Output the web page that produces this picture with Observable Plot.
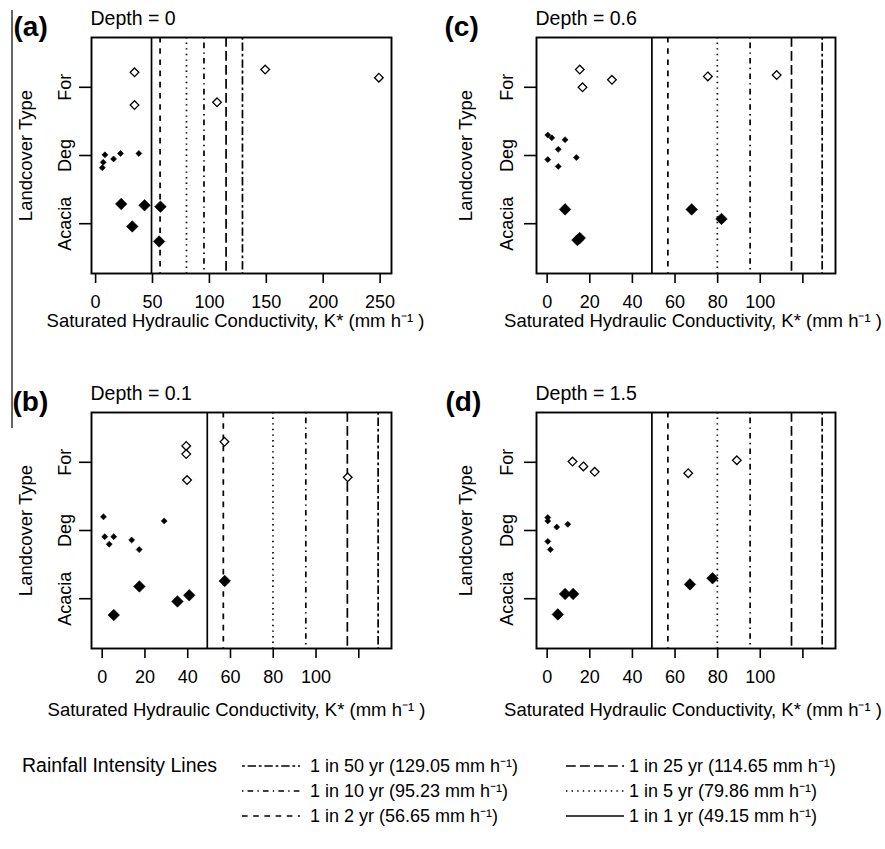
<!DOCTYPE html>
<html><head><meta charset="utf-8">
<script src="https://cdn.jsdelivr.net/npm/d3@7"></script>
<script src="https://cdn.jsdelivr.net/npm/@observablehq/plot@0.6"></script>
<style>
body{margin:0;background:#fff;font-family:"Liberation Sans",Arial,sans-serif;color:#000;}
#root{position:relative;width:885px;height:849px;overflow:hidden;background:#fff;}
.panel{position:absolute;}
#edge{position:absolute;left:11px;top:10px;width:1.5px;height:418px;background:#666;}
#legend{position:absolute;left:0;top:740px;}
</style></head><body><div id="root"><div id="edge"></div></div>
<script>
// ---- data ----
const categories = ["Acacia", "Deg", "For"];

// (a) Depth = 0
const depth0Cover = ["For","For","For","For","For","Deg","Deg","Deg","Deg","Deg","Deg","Acacia","Acacia","Acacia","Acacia","Acacia"];
const depth0K     = [34.2,149,248.9,34.2,106.7, 5.9,6.7,8.2,15.8,21.9,38, 22.5,43,57,32.2,55.8];
const depth0Pos   = [3.22,3.26,3.14,2.74,2.78, 1.82,1.90,2.01,1.95,2.03,2.03, 1.29,1.27,1.25,0.96,0.74];

// (b) Depth = 0.1
const depth01Cover = ["For","For","For","For","For","Deg","Deg","Deg","Deg","Deg","Deg","Deg","Acacia","Acacia","Acacia","Acacia","Acacia"];
const depth01K     = [39.3,39.3,39.7,57.2,114.8, 0.6,1.2,5.4,3.3,13.8,17.3,29, 17.4,57.3,40.7,35.2,5.4];
const depth01Pos   = [3.24,3.12,2.74,3.30,2.78, 2.20,1.91,1.91,1.80,1.86,1.72,2.14, 1.18,1.26,1.05,0.96,0.76];

// (c) Depth = 0.6
const depth06Cover = ["For","For","For","For","For","Deg","Deg","Deg","Deg","Deg","Deg","Deg","Acacia","Acacia","Acacia","Acacia","Acacia"];
const depth06K     = [15.3,16.6,30.4,75.4,107.7, 0.3,2.2,8.4,5.2,0.3,13.7,5.2, 8.4,67.8,81.8,15.3,14.2];
const depth06Pos   = [3.26,3.00,3.11,3.16,3.18, 2.30,2.26,2.23,2.09,1.94,1.97,1.84, 1.21,1.21,1.07,0.79,0.76];

// (d) Depth = 1.5
const depth15Cover = ["For","For","For","For","For","Deg","Deg","Deg","Deg","Deg","Deg","Acacia","Acacia","Acacia","Acacia","Acacia"];
const depth15K     = [11.9,17.0,22.3,66.2,89.0, 0.3,0.3,4.5,9.7,0.3,1.5, 8.4,12.2,5.0,67.0,77.6];
const depth15Pos   = [3.01,2.94,2.86,2.84,3.03, 2.19,2.14,2.05,2.09,1.84,1.72, 1.07,1.07,0.77,1.21,1.30];

// rainfall intensity lines
const rainfallLabels = ["1 in 50 yr","1 in 25 yr","1 in 10 yr","1 in 5 yr","1 in 2 yr","1 in 1 yr"];
const rainfallK      = [129.05,114.65,95.23,79.86,56.65,49.15];
const rainfallLty    = ["twodash","longdash","dotdash","dotted","dashed","solid"];

const ticksWide   = [0,50,100,150,200,250];
const ticksNarrow = [0,20,40,60,80,100,120];
const tickLabelsNarrow = ["0","20","40","60","80","100",""];

// ---- styles ----
const dashes = {twodash:"2.8,2.8,8.4,2.8", longdash:"9.8,4.2", dotdash:"1.4,4.2,5.6,4.2", dotted:"1.4,4.2", dashed:"5.6,5.6", solid:null};
const FONT = "Liberation Sans, Arial, sans-serif";
const xLabel = "Saturated Hydraulic Conductivity, K* (mm h\u207B\u00B9 )";

const root = document.getElementById("root");

function panel(cfg, cover, K, pos) {
  const rows = K.map((k, i) => ({k, y: pos[i], cover: cover[i]}));
  const sub = c => rows.filter(d => d.cover === c);
  const plot = Plot.plot({
    width: cfg.width, height: 345,
    marginLeft: cfg.mL, marginRight: cfg.mR, marginTop: 37, marginBottom: 72,
    x: {domain: cfg.domain},
    y: {domain: [0.27, 3.73]},
    style: {fontFamily: FONT, fontSize: "18px", color: "#000", background: "transparent", overflow: "visible"},
    marks: [
      ...rainfallK.map((k, i) => Plot.ruleX([k], {x: d => d, stroke: "#000", strokeWidth: 1.7, strokeDasharray: dashes[rainfallLty[i]]})),
      Plot.dot(sub("For"), {x: "k", y: "y", symbol: "diamond2", r: 3.9, fill: "#fff", stroke: "#000", strokeWidth: 1.3}),
      Plot.dot(sub("Deg"), {x: "k", y: "y", symbol: "diamond2", r: 2.7, fill: "#000", stroke: "#000", strokeWidth: 0.6}),
      Plot.dot(sub("Acacia"), {x: "k", y: "y", symbol: "diamond2", r: 5.2, fill: "#000", stroke: "#000", strokeWidth: 0.6}),
      Plot.frame({stroke: "#000", strokeWidth: 1.9}),
      Plot.axisX({ticks: cfg.ticks, tickFormat: cfg.fmt, tickSize: 10, tickPadding: 12, label: null, strokeWidth: 1.6}),
      Plot.axisY({ticks: [1,2,3], tickFormat: i => categories[i-1], tickRotate: -90, tickSize: 12, tickPadding: cfg.yPad, label: null, strokeWidth: 1.6}),
      Plot.text([cfg.letter], {text: d => d, frameAnchor: "top-left", dx: cfg.letterDx, dy: -2, lineAnchor: "bottom", textAnchor: "start", fontSize: 28, fontWeight: "bold"}),
      Plot.text([cfg.title], {text: d => d, frameAnchor: "top-left", dx: -1, dy: -13, lineAnchor: "bottom", textAnchor: "start", fontSize: 19.5}),
      Plot.text(["Landcover Type"], {text: d => d, frameAnchor: "left", dx: cfg.yLabDx, rotate: -90, lineAnchor: "top", textAnchor: "middle", fontSize: 18.5}),
      Plot.text([xLabel], {text: d => d, frameAnchor: "bottom", dx: cfg.xLabDx, dy: cfg.xLabDy, lineAnchor: "bottom", textAnchor: "middle", fontSize: 18.5})
    ]
  });
  const div = document.createElement("div");
  div.className = "panel";
  div.style.left = cfg.left + "px";
  div.style.top = cfg.top + "px";
  div.appendChild(plot);
  root.appendChild(div);
}

const fmtNarrow = d => tickLabelsNarrow[ticksNarrow.indexOf(d)];

panel({letter: "(a)", title: "Depth = 0", left: 0, top: 0, width: 440, mL: 91, mR: 49, domain: [-3.6, 260], ticks: ticksWide, fmt: d => String(d), yPad: 9, letterDx: -78, yLabDx: -73, xLabDx: -6, xLabDy: 53}, depth0Cover, depth0K, depth0Pos);
panel({letter: "(c)", title: "Depth = 0.6", left: 440, top: 0, width: 445, mL: 96, mR: 50, domain: [-5, 135.3], ticks: ticksNarrow, fmt: fmtNarrow, yPad: 12, letterDx: -92, yLabDx: -78, xLabDx: 7, xLabDy: 53}, depth06Cover, depth06K, depth06Pos);
panel({letter: "(b)", title: "Depth = 0.1", left: 0, top: 375, width: 440, mL: 91, mR: 49, domain: [-5, 135.3], ticks: ticksNarrow, fmt: fmtNarrow, yPad: 9, letterDx: -79, yLabDx: -73, xLabDx: -5, xLabDy: 67}, depth01Cover, depth01K, depth01Pos);
panel({letter: "(d)", title: "Depth = 1.5", left: 440, top: 375, width: 445, mL: 96, mR: 50, domain: [-5, 135.3], ticks: ticksNarrow, fmt: fmtNarrow, yPad: 12, letterDx: -91, yLabDx: -78, xLabDx: 7, xLabDy: 67}, depth15Cover, depth15K, depth15Pos);

// ---- legend ----
const lg = d3.select("#root").append("svg").attr("id", "legend").attr("width", 885).attr("height", 109)
  .style("font-family", FONT).style("font-size", "18px");
const rowBase = [32, 57, 82];
const colSample = [242, 566], colText = [310, 629];
lg.append("text").attr("x", 22).attr("y", rowBase[0]).style("font-size", "19.5px").text("Rainfall Intensity Lines");
rainfallLabels.forEach((lab, i) => {
  const r = Math.floor(i / 2), c = i % 2;
  const ln = lg.append("line").attr("x1", colSample[c]).attr("x2", colSample[c] + 58)
    .attr("y1", rowBase[r] - 6).attr("y2", rowBase[r] - 6).attr("stroke", "#000").attr("stroke-width", 1.4);
  if (dashes[rainfallLty[i]]) ln.attr("stroke-dasharray", dashes[rainfallLty[i]]);
  lg.append("text").attr("x", colText[c]).attr("y", rowBase[r])
    .text(`${lab} (${rainfallK[i].toFixed(2)} mm h\u207B\u00B9)`);
});
</script>
</body></html>
